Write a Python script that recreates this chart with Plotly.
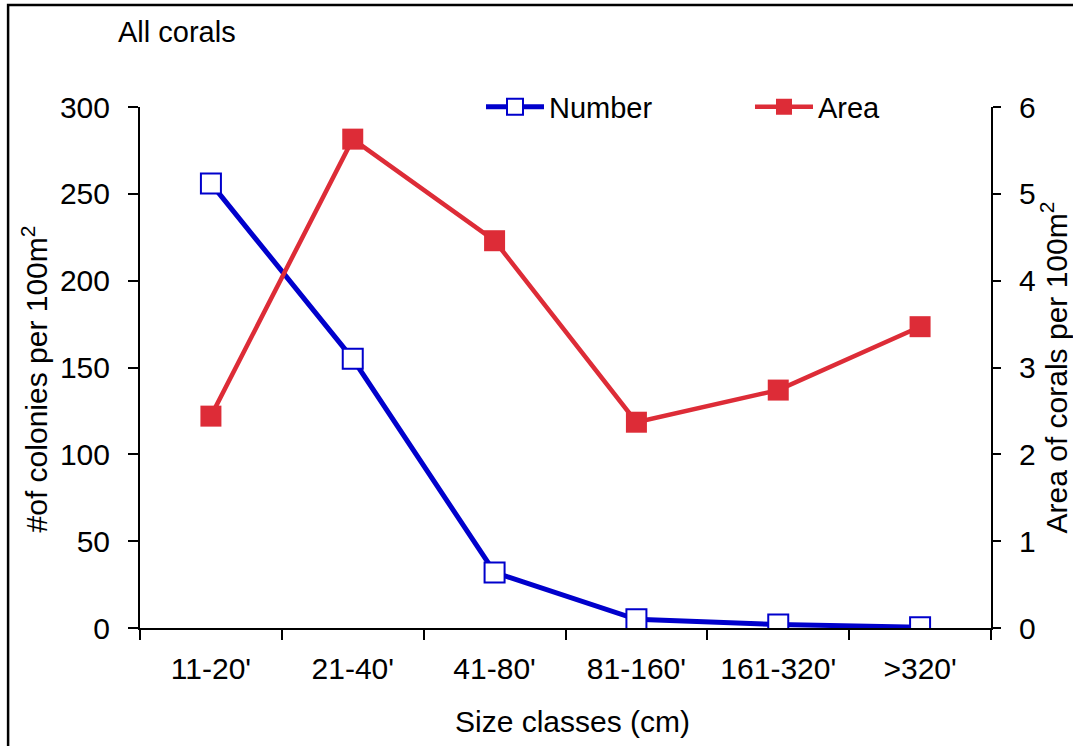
import plotly.graph_objects as go

categories = ["11-20'", "21-40'", "41-80'", "81-160'", "161-320'", ">320'"]
number_vals = [256, 155, 32, 5, 2, 0.5]
area_vals = [2.44, 5.63, 4.46, 2.37, 2.74, 3.47]
left_ticks = [0, 50, 100, 150, 200, 250, 300]
right_ticks = [0, 1, 2, 3, 4, 5, 6]

BLUE = "#0000CC"
RED = "#DD2C37"
FONT = "Liberation Sans, Arial, sans-serif"

fig = go.Figure()
fig.add_trace(go.Scatter(
    x=categories, y=number_vals, name="Number", mode="lines+markers",
    line=dict(color=BLUE, width=5),
    marker=dict(symbol="square", size=20, color="white", line=dict(color=BLUE, width=2)),
    yaxis="y",
))
fig.add_trace(go.Scatter(
    x=categories, y=area_vals, name="Area", mode="lines+markers",
    line=dict(color=RED, width=4.5),
    marker=dict(symbol="square", size=21, color=RED, line=dict(color=RED, width=0)),
    yaxis="y2",
))

fig.update_layout(
    width=1073, height=746,
    margin=dict(l=140, r=82, t=107, b=118),
    paper_bgcolor="white", plot_bgcolor="white",
    font=dict(family=FONT, size=30, color="black"),
    showlegend=True,
    legend=dict(orientation="h", x=0.4007, xanchor="left", y=1.0, yanchor="middle",
                bgcolor="rgba(0,0,0,0)", itemwidth=58, entrywidth=196,
                font=dict(size=29)),
    xaxis=dict(
        type="category", showline=True, linecolor="black", linewidth=2,
        ticks="outside", ticklen=10, tickwidth=2, tickcolor="black",
        tickson="boundaries", showgrid=False, zeroline=False,
        tickfont=dict(size=30), ticklabelstandoff=13,
        range=[-0.5, 5.5],
    ),
    yaxis=dict(
        range=[0, 300], tickvals=left_ticks, showline=True, linecolor="black", linewidth=2,
        ticks="outside", ticklen=10, tickwidth=2, tickcolor="black",
        showgrid=False, zeroline=False, ticklabelstandoff=12,
        tickfont=dict(size=30),
    ),
    yaxis2=dict(
        range=[0, 6], tickvals=right_ticks, overlaying="y", side="right",
        showline=True, linecolor="black", linewidth=2,
        ticks="outside", ticklen=8, tickwidth=2, tickcolor="black",
        showgrid=False, zeroline=False, ticklabelstandoff=12,
        tickfont=dict(size=30),
    ),
)

# axis titles placed as annotations to match the reference positions
fig.add_annotation(text="Size classes (cm)", xref="paper", yref="paper",
                   x=0.5088, y=-0.1804, xanchor="center", yanchor="middle",
                   showarrow=False, font=dict(size=30))
fig.add_annotation(text="#of colonies per 100m<sup>2</sup>", xref="paper", yref="paper",
                   x=-0.1234, y=0.479, xanchor="center", yanchor="middle", textangle=-90,
                   showarrow=False, font=dict(size=30))
fig.add_annotation(text="Area of corals per 100m<sup>2</sup>", xref="paper", yref="paper",
                   x=1.074, y=0.5, xanchor="center", yanchor="middle", textangle=-90,
                   showarrow=False, font=dict(size=30))

fig.add_annotation(text="All corals", xref="paper", yref="paper",
                   x=-0.0282, y=1.144, xanchor="left", yanchor="middle",
                   showarrow=False, font=dict(size=29))

fig.add_shape(type="rect", xref="paper", yref="paper",
              x0=-0.155, x1=1.2, y0=-0.3, y1=1.196,
              line=dict(color="black", width=2.5), fillcolor="rgba(0,0,0,0)", layer="below")

fig.write_html("out.html")
